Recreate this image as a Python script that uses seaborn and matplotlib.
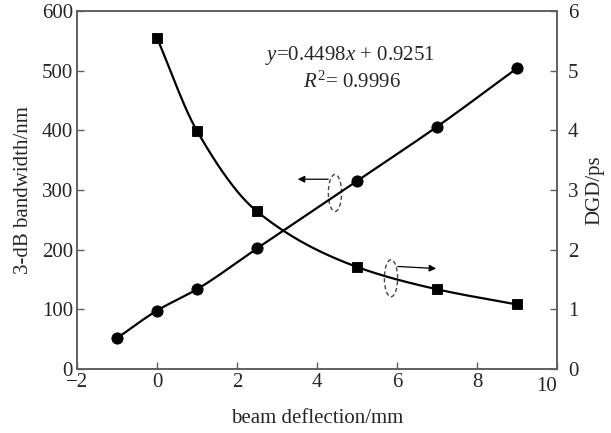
"""Bandwidth and DGD versus beam deflection, redrawn with seaborn."""

import matplotlib
import numpy as np
import pandas as pd
import seaborn as sns
from matplotlib.patches import Ellipse

matplotlib.use("Agg")
import matplotlib.pyplot as plt

# circle series (linear, left-axis scale)
circle_x = [-1, 0, 1, 2.5, 5, 7, 9]
circle_y = [51.5, 97.8, 133.5, 202, 315, 406, 504]

# square series (decaying, left-axis scale)
square_x = [0, 1, 2.5, 5, 7, 9]
square_y = [555, 399, 264, 171, 133.5, 108]

x_ticks = [-2, 0, 2, 4, 6, 8, 10]
left_ticks = [0, 100, 200, 300, 400, 500, 600]
right_ticks = [0, 1, 2, 3, 4, 5, 6]

FONT = "Liberation Serif"
SPINE = "#606060"
FS = 15


def smooth_curve(xs, ys, n=200):
    """Monotone cubic (Fritsch-Carlson) curve through the given points."""
    xs = np.asarray(xs, float)
    ys = np.asarray(ys, float)
    h = np.diff(xs)
    delta = np.diff(ys) / h
    m = np.zeros_like(ys)
    m[0], m[-1] = delta[0], delta[-1]
    for i in range(1, len(xs) - 1):
        if delta[i - 1] * delta[i] <= 0:
            m[i] = 0
        else:
            w1 = 2 * h[i] + h[i - 1]
            w2 = h[i] + 2 * h[i - 1]
            m[i] = (w1 + w2) / (w1 / delta[i - 1] + w2 / delta[i])
    xx = np.linspace(xs[0], xs[-1], n)
    idx = np.clip(np.searchsorted(xs, xx) - 1, 0, len(xs) - 2)
    t = (xx - xs[idx]) / h[idx]
    h00 = 2 * t**3 - 3 * t**2 + 1
    h10 = t**3 - 2 * t**2 + t
    h01 = -2 * t**3 + 3 * t**2
    h11 = t**3 - t**2
    yy = (h00 * ys[idx] + h10 * h[idx] * m[idx]
          + h01 * ys[idx + 1] + h11 * h[idx] * m[idx + 1])
    return pd.DataFrame({"x": xx, "y": yy})


sns.set_theme(style="ticks")
plt.rcParams["font.family"] = [FONT, "DejaVu Serif"]
plt.rcParams["mathtext.fontset"] = "custom"
plt.rcParams["mathtext.rm"] = FONT
plt.rcParams["mathtext.it"] = FONT + ":italic"

fig = plt.figure(figsize=(6.11, 4.33), dpi=100)
ax = fig.add_axes([0.126, 0.148, 0.7856, 0.8266])

circles = pd.DataFrame({"x": circle_x, "y": circle_y})
squares = pd.DataFrame({"x": square_x, "y": square_y})

sns.lineplot(data=smooth_curve(circle_x, circle_y), x="x", y="y", ax=ax,
             color="black", linewidth=1.6, sort=False)
sns.lineplot(data=smooth_curve(square_x, square_y), x="x", y="y", ax=ax,
             color="black", linewidth=1.6, sort=False)
sns.scatterplot(data=circles, x="x", y="y", ax=ax, marker="o", s=65,
                color="black", edgecolor="black", zorder=5)
sns.scatterplot(data=squares, x="x", y="y", ax=ax, marker="s", s=60,
                color="black", edgecolor="black", zorder=5)

ax.set_xlim(-2, 10)
ax.set_ylim(0, 600)
ax.set_xticks(x_ticks)
ax.set_xticklabels(["\u22122"] + [str(v) for v in x_ticks[1:-1]] + [""])
ax.set_yticks(left_ticks)
ax.set_xlabel("beam deflection/mm", fontsize=FS, labelpad=12)
ax.set_ylabel("3-dB bandwidth/nm", fontsize=FS, labelpad=6)
ax.tick_params(direction="in", length=5, width=1, color=SPINE,
               labelsize=FS, pad=3)
for side in ["top", "right"]:
    ax.spines[side].set_visible(True)
for spine in ax.spines.values():
    spine.set_color(SPINE)
    spine.set_linewidth(1.2)

ax2 = ax.twinx()
ax2.set_ylim(0, 6)
ax2.set_yticks(right_ticks)
ax2.set_ylabel("DGD/ps", fontsize=FS, labelpad=5)
ax2.tick_params(direction="in", length=5, width=1, color=SPINE,
                labelsize=FS, pad=8)
for spine in ax2.spines.values():
    spine.set_color(SPINE)
    spine.set_linewidth(1.2)

# "10" sits left of the corner so it does not clash with the right "0"
ax.text(10.0, -14, "10", fontsize=FS, ha="right", va="top")

ax.text(4.83, 526, r"$y$=0.4498$x$ + 0.9251", fontsize=FS,
        ha="center", va="center")
ax.text(4.88, 481, r"$R^2$= 0.9996", fontsize=FS, ha="center", va="center")

for cx, cy in [(4.45, 295), (5.85, 152)]:
    ax.add_patch(Ellipse((cx, cy), 0.33, 62, fill=False, edgecolor="#444444",
                         linestyle=(0, (3, 2)), linewidth=1))
ax.annotate("", xy=(3.45, 318), xytext=(4.35, 318),
            arrowprops=dict(arrowstyle="-|>", color="black", lw=0.9,
                            mutation_scale=10))
ax.annotate("", xy=(7.05, 168), xytext=(5.95, 172),
            arrowprops=dict(arrowstyle="-|>", color="black", lw=0.9,
                            mutation_scale=10))

fig.savefig("out.png", dpi=100)
